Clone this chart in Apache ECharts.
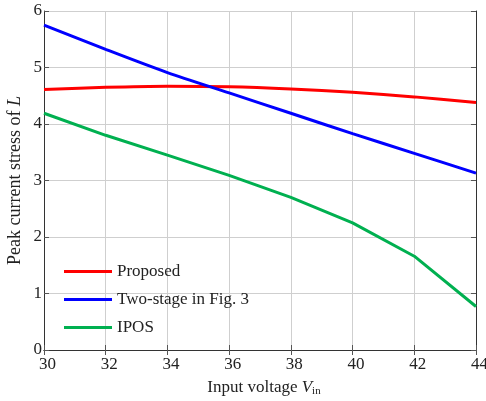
<!DOCTYPE html>
<html>
<head>
  <meta charset="utf-8">
  <script src="https://cdn.jsdelivr.net/npm/echarts@6/dist/echarts.min.js"></script>
  <style>
    html, body { margin: 0; padding: 0; background: #fff; }
    #chart { width: 486px; height: 401px; }
  </style>
</head>
<body>
  <div id="chart"></div>
  <script>
    // input voltage (V)
    const vin = [30, 32, 34, 36, 38, 40, 42, 44];
    const proposed = [4.61, 4.65, 4.67, 4.66, 4.62, 4.56, 4.48, 4.38];
    const twoStage = [5.75, 5.32, 4.91, 4.55, 4.19, 3.83, 3.48, 3.13];
    const ipos = [4.19, 3.80, 3.45, 3.09, 2.70, 2.25, 1.66, 0.77];
    const seriesNames = ['Proposed', 'Two-stage in Fig. 3', 'IPOS'];
    const colors = ['#ff0000', '#0000ff', '#00b050'];

    const font = 'Liberation Serif';
    const txt = '#222';
    const pairs = arr => arr.map((v, i) => [vin[i], v]);

    let myChart = echarts.init(document.getElementById('chart'));
    let option = {
      animation: false,
      textStyle: { fontFamily: font },
      color: colors,
      grid: { left: 44, right: 10, top: 11, bottom: 51, containLabel: false, outerBoundsMode: 'none' },
      legend: {
        orient: 'vertical',
        left: 59,
        top: 258,
        itemWidth: 48,
        itemHeight: 3,
        itemGap: 11,
        icon: 'rect',
        textStyle: { fontFamily: font, fontSize: 17, color: txt },
        data: seriesNames
      },
      xAxis: [{
        type: 'value', min: 30, max: 44, interval: 2,
        axisLine: { lineStyle: { color: '#333' } },
        axisTick: { inside: true, length: 5, lineStyle: { color: '#555' } },
        axisLabel: { fontSize: 17, color: txt, margin: 6, fontFamily: font, padding: [0, 0, 0, 7] },
        splitLine: { show: true, lineStyle: { color: '#cfcfcf' } },
        name: '{t|Input voltage }{i|V}{s|in}',
        nameLocation: 'middle',
        nameGap: 29,
        nameMoveOverlap: false,
        nameTextStyle: {
          padding: [0, 0, 0, 8],
          rich: {
            t: { fontSize: 17, color: txt, fontFamily: font },
            i: { fontSize: 17, color: txt, fontFamily: font, fontStyle: 'italic' },
            s: { fontSize: 11, color: txt, fontFamily: font, verticalAlign: 'bottom', padding: [7, 0, 0, 0] }
          }
        }
      }, {
        type: 'value', min: 30, max: 44, interval: 2, position: 'top',
        axisLine: { show: true, lineStyle: { color: '#333' } },
        axisTick: { show: true, inside: true, length: 5, lineStyle: { color: '#555' } },
        axisLabel: { show: false },
        splitLine: { show: false }
      }],
      yAxis: [{
        type: 'value', min: 0, max: 6, interval: 1,
        axisLine: { show: true, lineStyle: { color: '#333' } },
        axisTick: { show: true, inside: true, length: 5, lineStyle: { color: '#555' } },
        axisLabel: { fontSize: 17, color: txt, margin: 2, fontFamily: font },
        splitLine: { show: true, lineStyle: { color: '#cfcfcf' } },
        name: '{t|Peak current stress of }{i|L}',
        nameLocation: 'middle',
        nameGap: 20,
        nameMoveOverlap: false,
        nameTextStyle: {
          rich: {
            t: { fontSize: 18, color: txt, fontFamily: font },
            i: { fontSize: 18, color: txt, fontFamily: font, fontStyle: 'italic' }
          }
        }
      }, {
        type: 'value', min: 0, max: 6, interval: 1, position: 'right',
        axisLine: { show: true, lineStyle: { color: '#333' } },
        axisTick: { show: true, inside: true, length: 5, lineStyle: { color: '#555' } },
        axisLabel: { show: false },
        splitLine: { show: false }
      }],
      series: [
        { name: seriesNames[0], type: 'line', data: pairs(proposed), smooth: 0.3, symbol: 'none', lineStyle: { width: 3 } },
        { name: seriesNames[1], type: 'line', data: pairs(twoStage), smooth: 0.3, symbol: 'none', lineStyle: { width: 3 } },
        { name: seriesNames[2], type: 'line', data: pairs(ipos), symbol: 'none', lineStyle: { width: 3 } }
      ]
    };
    myChart.setOption(option);
  </script>
</body>
</html>
